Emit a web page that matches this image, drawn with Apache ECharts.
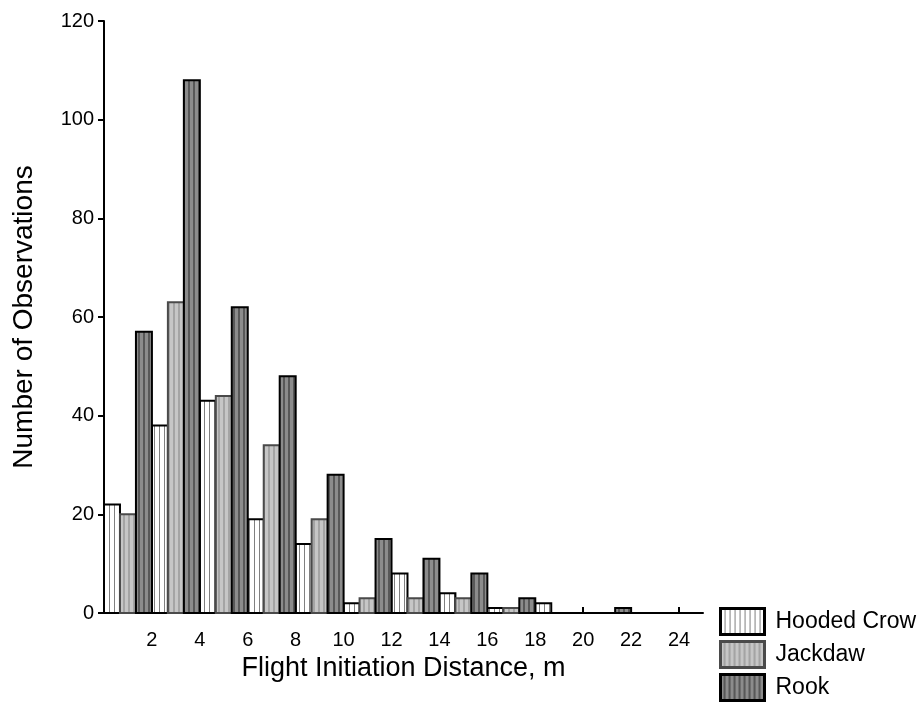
<!DOCTYPE html>
<html>
<head>
<meta charset="utf-8">
<script src="https://cdn.jsdelivr.net/npm/echarts@6/dist/echarts.min.js"></script>
<style>html,body{margin:0;padding:0;background:#fff}#c{width:923px;height:702px}</style>
</head>
<body>
<div id="c"></div>
<script>
// Bin starts (m), each bin spans 2 m
const binStarts = [0, 2, 4, 6, 8, 10, 12, 14, 16, 18, 20, 22];
const hoodedCrow = [22, 38, 43, 19, 14, 2, 8, 4, 1, 2, 0, 0];
const jackdaw    = [20, 63, 44, 34, 19, 3, 3, 3, 1, 0, 0, 0];
const rook       = [57, 108, 62, 48, 28, 15, 11, 8, 3, 0, 1, 0];
const seriesNames = ['Hooded Crow', 'Jackdaw', 'Rook'];
const xTickValues = [2, 4, 6, 8, 10, 12, 14, 16, 18, 20, 22, 24];

function stripePattern(bg, fg, bgW, fgW) {
  const c = document.createElement('canvas');
  c.width = bgW + fgW; c.height = 4;
  const ctx = c.getContext('2d');
  ctx.fillStyle = bg; ctx.fillRect(0, 0, bgW, 4);
  ctx.fillStyle = fg; ctx.fillRect(bgW, 0, fgW, 4);
  return { image: c, repeat: 'repeat' };
}
const styles = [
  { fill: stripePattern('#ffffff', '#808080', 4, 1), stroke: '#000000' },
  { fill: stripePattern('#c6c6c6', '#a4a4a4', 3, 2), stroke: '#4a4a4a' },
  { fill: stripePattern('#8c8c8c', '#585858', 3, 2), stroke: '#000000' }
];
const FONT = 'Liberation Sans, Arial, sans-serif';

function makeRender(idx) {
  return function (params, api) {
    const v = api.value(1);
    if (!v) return null;
    const x0 = api.value(0) + idx * 2 / 3;
    const p0 = api.coord([x0, v]);
    const p1 = api.coord([x0 + 2 / 3, 0]);
    return {
      type: 'rect',
      shape: { x: p0[0], y: p0[1], width: p1[0] - p0[0], height: p1[1] - p0[1] },
      style: { fill: styles[idx].fill, stroke: styles[idx].stroke, lineWidth: 2 }
    };
  };
}

const allValues = [hoodedCrow, jackdaw, rook];
const series = seriesNames.map((name, i) => ({
  name: name,
  type: 'custom',
  renderItem: makeRender(i),
  data: binStarts.map((b, j) => [b, allValues[i][j]]),
  encode: { x: 0, y: 1 },
  itemStyle: { color: styles[i].fill, borderColor: styles[i].stroke, borderWidth: 2 },
  z: 2
}));

const legendTops = [607, 640, 673];
const legends = seriesNames.map((n, i) => ({
  orient: 'vertical', left: 719, top: legendTops[i],
  itemWidth: 44, itemHeight: 26, padding: 0,
  selectedMode: false,
  textStyle: { fontFamily: FONT, fontSize: 23, color: '#000', padding: [0, 0, 0, 6] },
  data: [{
    name: n, icon: 'rect',
    itemStyle: { color: styles[i].fill, borderColor: styles[i].stroke, borderWidth: 3 }
  }]
}));

const chart = echarts.init(document.getElementById('c'), null, { renderer: 'canvas' });
chart.setOption({
  animation: false,
  backgroundColor: '#ffffff',
  grid: { left: 104, top: 21, width: 599, height: 592, containLabel: false },
  xAxis: {
    type: 'value', min: 0, max: 25, interval: 2,
    name: 'Flight Initiation Distance, m',
    nameLocation: 'middle', nameGap: 36,
    nameTextStyle: { fontFamily: FONT, fontSize: 27, color: '#000' },
    axisLine: { show: true, lineStyle: { color: '#000', width: 2 } },
    axisTick: { show: true, inside: true, length: 6, customValues: xTickValues, lineStyle: { color: '#000', width: 2 } },
    axisLabel: { customValues: xTickValues, fontFamily: FONT, fontSize: 20, color: '#000', margin: 17 },
    splitLine: { show: false }
  },
  yAxis: {
    type: 'value', min: 0, max: 120, interval: 20,
    name: 'Number of Observations',
    nameLocation: 'middle', nameGap: 66,
    nameTextStyle: { fontFamily: FONT, fontSize: 28, color: '#000' },
    axisLine: { show: true, lineStyle: { color: '#000', width: 2 } },
    axisTick: { show: true, inside: false, length: 6, lineStyle: { color: '#000', width: 2 } },
    axisLabel: { fontFamily: FONT, fontSize: 20, color: '#000', margin: 10 },
    splitLine: { show: false }
  },
  legend: legends,
  series: series
});
</script>
</body>
</html>
